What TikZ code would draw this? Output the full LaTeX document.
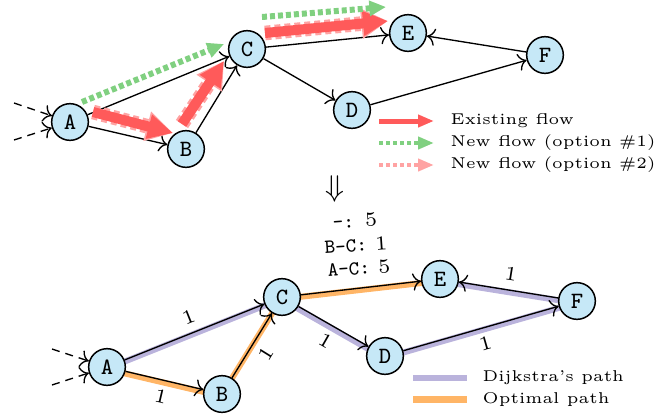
\documentclass[tikz,border=0pt]{standalone}
\usetikzlibrary{arrows.meta,backgrounds}
\definecolor{nodefill}{HTML}{C6E8F7}
\definecolor{flowred}{HTML}{FF5A5A}
\definecolor{flowgreen}{HTML}{80D080}
\definecolor{flowpink}{HTML}{FFA3A3}
\definecolor{dijk}{HTML}{BAB3DC}
\definecolor{optim}{HTML}{FFB566}
\begin{document}
\begin{tikzpicture}[x=0.3pt,y=-0.3pt,
  vertex/.style={circle, draw, line width=0.45pt, fill=nodefill, minimum size=11pt, inner sep=0pt, font=\scriptsize\ttfamily},
  edge/.style={->, line width=0.4pt},
  inedge/.style={->, line width=0.4pt, dash pattern=on 2.4pt off 1.8pt},
  existflow/.style={line width=3pt, draw=flowred, -{Triangle[length=7.5pt,width=7pt]}},
  optwoflow/.style={line width=4.4pt, draw=flowpink, dash pattern=on 1.8pt off 1.2pt, -{Triangle[length=8pt,width=8.6pt]}},
  oponeflow/.style={line width=1.8pt, draw=flowgreen, dash pattern=on 1.5pt off 0.9pt, -{Triangle[length=5pt,width=4.4pt]}},
  legexist/.style={line width=1.5pt, draw=flowred, -{Triangle[length=4.8pt,width=3.6pt]}},
  legone/.style={line width=1.3pt, draw=flowgreen, dash pattern=on 1.2pt off 0.9pt, -{Triangle[length=4.8pt,width=3.6pt]}},
  legtwo/.style={line width=1.3pt, draw=flowpink, dash pattern=on 1.2pt off 0.9pt, -{Triangle[length=4.8pt,width=3.6pt]}},
  dijkband/.style={line width=1.8pt, draw=dijk},
  optband/.style={line width=1.8pt, draw=optim},
  legtext/.style={anchor=west, inner sep=0pt, font=\fontsize{4.7}{5.5}\selectfont},
  wlabel/.style={font=\fontsize{6}{7}\selectfont, inner sep=2.6pt},
  costtext/.style={font=\fontsize{6}{7}\selectfont, inner sep=0pt, rotate=4}
]
\useasboundingbox (0,0) rectangle (663,413);

% ---------- top graph ----------
\node[vertex] (A) at (70,122) {A};
\node[vertex] (B) at (186,149) {B};
\node[vertex] (C) at (247,49) {C};
\node[vertex] (D) at (352,110) {D};
\node[vertex] (E) at (408,33) {E};
\node[vertex] (F) at (545,55) {F};
\coordinate (inA1) at (14,103);
\coordinate (inA2) at (14,140);

\draw[inedge] (inA1) -- (A);
\draw[inedge] (inA2) -- (A);
\draw[edge] (A) -- (C);
\draw[edge] (A) -- (B);
\draw[edge] (B) -- (C);
\draw[edge] (C) -- (E);
\draw[edge] (C) -- (D);
\draw[edge] (D) -- (F);
\draw[edge] (F) -- (E);

% flows
\coordinate (fab1) at (93,112);  \coordinate (fab2) at (173,133);
\coordinate (fbc1) at (182,124); \coordinate (fbc2) at (224,61);
\coordinate (fce1) at (265,33);  \coordinate (fce2) at (388,21);
\coordinate (gac1) at (82,102);  \coordinate (gac2) at (224,44);
\coordinate (gce1) at (262,17);  \coordinate (gce2) at (386,7);
\draw[optwoflow] (fab1) -- (fab2);
\draw[optwoflow] (fbc1) -- (fbc2);
\draw[optwoflow] (fce1) -- (fce2);
\draw[existflow] (fab1) -- (fab2);
\draw[existflow] (fbc1) -- (fbc2);
\draw[existflow] (fce1) -- (fce2);
\draw[oponeflow] (gac1) -- (gac2);
\draw[oponeflow] (gce1) -- (gce2);

% top legend
\coordinate (l1a) at (379,121); \coordinate (l1b) at (434,121);
\coordinate (l2a) at (379,143); \coordinate (l2b) at (434,143);
\coordinate (l3a) at (379,165); \coordinate (l3b) at (434,165);
\draw[legexist] (l1a) -- (l1b);
\draw[legone] (l2a) -- (l2b);
\draw[legtwo] (l3a) -- (l3b);
\node[legtext] (t1) at (450,121) {Existing flow};
\node[legtext] (t2) at (450,143) {New flow (option \#1)};
\node[legtext] (t3) at (450,165) {New flow (option \#2)};

% arrow between
\node[font=\fontsize{9}{10}\selectfont, inner sep=0pt] (imp) at (335,189) {$\Downarrow$};

\node[costtext] (c1) at (355,221) {\texttt{-:} 5};
\node[costtext] (c2) at (356,245) {\texttt{B-C:} 1};
\node[costtext] (c3) at (359,268) {\texttt{A-C:} 5};

% ---------- bottom graph ----------
\node[vertex] (A2) at (107,367) {A};
\node[vertex] (B2) at (222,394) {B};
\node[vertex] (C2) at (282,297) {C};
\node[vertex] (D2) at (385,356) {D};
\node[vertex] (E2) at (440,279) {E};
\node[vertex] (F2) at (577,301) {F};
\coordinate (inB1) at (52,349);
\coordinate (inB2) at (52,385);

\begin{pgfonlayer}{background}
\draw[dijkband] ([shift={(-1,2)}]A2.center) -- ([shift={(-1,2)}]C2.center);
\draw[dijkband] ([shift={(-1,2)}]C2.center) -- ([shift={(-1,2)}]D2.center);
\draw[dijkband] ([shift={(-1,2)}]D2.center) -- ([shift={(-1,2)}]F2.center);
\draw[dijkband] ([shift={(-1,2)}]F2.center) -- ([shift={(-1,2)}]E2.center);
\draw[optband] ([shift={(-1,2)}]A2.center) -- ([shift={(-1,2)}]B2.center);
\draw[optband] ([shift={(-1,2)}]B2.center) -- ([shift={(-1,2)}]C2.center);
\draw[optband] ([shift={(-1,2)}]C2.center) -- ([shift={(-1,2)}]E2.center);
\end{pgfonlayer}

\draw[inedge] (inB1) -- (A2);
\draw[inedge] (inB2) -- (A2);
\draw[edge] (A2) -- node[wlabel, midway, sloped, above] {1} (C2);
\draw[edge] (A2) -- node[wlabel, midway, sloped, below] {1} (B2);
\draw[edge] (B2) -- node[wlabel, midway, sloped, below] {1} (C2);
\draw[edge] (C2) -- (E2);
\draw[edge] (C2) -- node[wlabel, midway, sloped, below] {1} (D2);
\draw[edge] (D2) -- node[wlabel, midway, sloped, below] {1} (F2);
\draw[edge] (F2) -- node[wlabel, midway, sloped, above] {1} (E2);

% bottom legend
\coordinate (b1a) at (413,378); \coordinate (b1b) at (467,378);
\coordinate (b2a) at (413,399.5); \coordinate (b2b) at (467,399.5);
\draw[line width=2pt, draw=dijk] (b1a) -- (b1b);
\draw[line width=2.1pt, draw=optim] (b2a) -- (b2b);
\node[legtext] (t4) at (482,378) {Dijkstra’s path};
\node[legtext] (t5) at (482,399.5) {Optimal path};
\end{tikzpicture}
\end{document}
